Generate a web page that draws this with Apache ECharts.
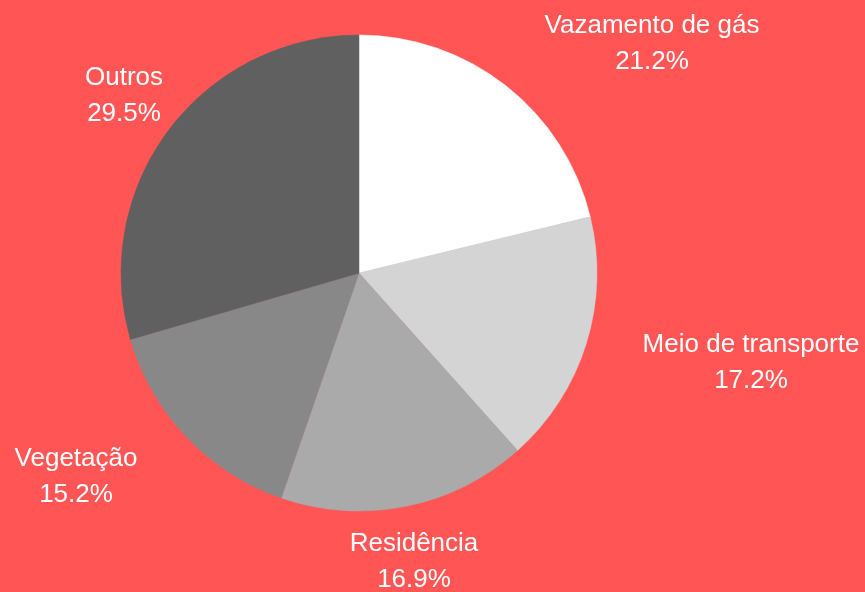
<!DOCTYPE html>
<html>
<head>
<meta charset="utf-8">
<script src="https://cdn.jsdelivr.net/npm/echarts@6/dist/echarts.min.js"></script>
<style>
  html, body { margin: 0; padding: 0; background: #ff5555; }
  #main { width: 865px; height: 592px; }
</style>
</head>
<body>
<div id="main"></div>
<script>
const categories = ['Vazamento de gás', 'Meio de transporte', 'Residência', 'Vegetação', 'Outros']
const shares = [21.2, 17.2, 16.9, 15.2, 29.5]
const sliceColors = ['#ffffff', '#d4d4d4', '#aaaaaa', '#888888', '#606060']
// label centres (px)
const labelPos = [[652, 44], [751, 363], [414, 562], [76, 477], [124, 96]]

let chart = echarts.init(document.getElementById('main'))
chart.setOption({
  backgroundColor: '#ff5555',
  animation: false,
  series: [{
    type: 'pie',
    center: [359, 273],
    radius: 238,
    startAngle: 90,
    clockwise: true,
    data: categories.map((name, i) => ({
      name: name,
      value: shares[i],
      itemStyle: { color: sliceColors[i], borderColor: sliceColors[i], borderWidth: 0.5 }
    })),
    emphasis: { disabled: true },
    labelLine: { show: false },
    label: {
      position: 'outside',
      color: '#ffffff',
      fontFamily: 'Liberation Sans, Arial, sans-serif',
      fontSize: 26,
      lineHeight: 36,
      align: 'center',
      formatter: p => p.name + '\n' + p.value.toFixed(1) + '%'
    },
    labelLayout: p => ({
      x: labelPos[p.dataIndex][0],
      y: labelPos[p.dataIndex][1],
      align: 'center',
      verticalAlign: 'middle'
    })
  }]
})
</script>
</body>
</html>
